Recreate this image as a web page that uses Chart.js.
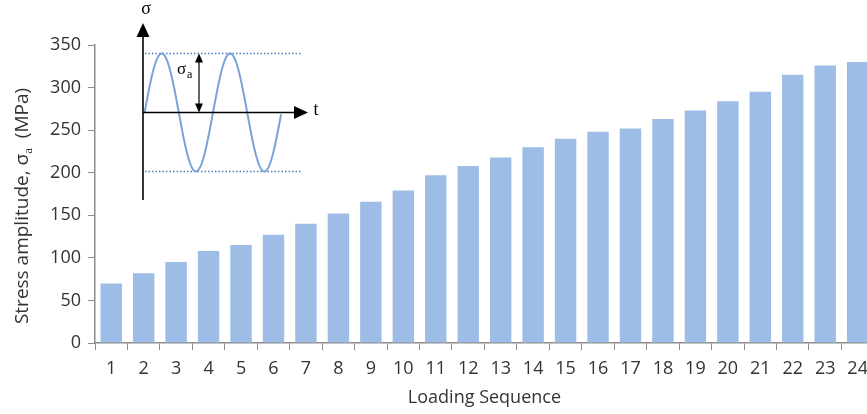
<!DOCTYPE html>
<html>
<head>
<meta charset="utf-8">
<script src="https://cdn.jsdelivr.net/npm/chart.js@4.4.1/dist/chart.umd.min.js"></script>
<style>
  html, body { margin: 0; padding: 0; background: #fff; overflow: hidden; }
  #wrap { width: 876px; height: 414px; }
</style>
</head>
<body>
<div id="wrap"><canvas id="chart"></canvas></div>
<script>
// datos
const categories = ['1', '2', '3', '4', '5', '6', '7', '8', '9', '10', '11', '12',
  '13', '14', '15', '16', '17', '18', '19', '20', '21', '22', '23', '24'];
const stressAmplitude = [70, 82, 95, 108, 115, 127, 140, 152, 166, 179, 197, 208,
  218, 230, 240, 248, 252, 263, 273, 284, 295, 315, 326, 330];
const yTicks = [0, 50, 100, 150, 200, 250, 300, 350];

const TEXT = '#333333';
const AXIS = '#8c8c8c';
const BAR = '#9dbde6';
const FONT = "'Open Sans', 'Liberation Sans', sans-serif";
const SERIF = "'Liberation Serif', 'DejaVu Serif', serif";

function arrowHead(ctx, x, y, dir, len, half) {
  ctx.beginPath();
  if (dir === 'up') { ctx.moveTo(x, y); ctx.lineTo(x - half, y + len); ctx.lineTo(x + half, y + len); }
  if (dir === 'down') { ctx.moveTo(x, y); ctx.lineTo(x - half, y - len); ctx.lineTo(x + half, y - len); }
  if (dir === 'right') { ctx.moveTo(x, y); ctx.lineTo(x - len, y - half); ctx.lineTo(x - len, y + half); }
  ctx.closePath();
  ctx.fill();
}

// esquema de carga sinusoidal (recuadro)
const insetPlugin = {
  id: 'inset',
  afterDraw(chart) {
    const ctx = chart.ctx;
    ctx.save();
    const ox = 143, oy = 112.5, amp = 59, x0 = 144.6, period = 68.4;

    // líneas punteadas de máximo y mínimo
    ctx.strokeStyle = '#4a7ebb';
    ctx.lineWidth = 1.3;
    ctx.setLineDash([1.5, 2]);
    [oy - amp, oy + amp].forEach(y => {
      ctx.beginPath(); ctx.moveTo(ox + 2, y); ctx.lineTo(302, y); ctx.stroke();
    });
    ctx.setLineDash([]);

    // onda
    ctx.strokeStyle = '#7aa3d8';
    ctx.lineWidth = 2;
    ctx.beginPath();
    for (let x = x0; x <= x0 + 2 * period + 0.01; x += 0.5) {
      const y = oy - amp * Math.sin((x - x0) / period * 2 * Math.PI);
      if (x === x0) ctx.moveTo(x, y); else ctx.lineTo(x, y);
    }
    ctx.stroke();

    // ejes
    ctx.strokeStyle = '#000';
    ctx.fillStyle = '#000';
    ctx.lineWidth = 1.6;
    ctx.beginPath(); ctx.moveTo(ox, 200); ctx.lineTo(ox, 34); ctx.stroke();
    arrowHead(ctx, ox, 23, 'up', 14, 6.5);
    ctx.beginPath(); ctx.moveTo(ox, oy); ctx.lineTo(296, oy); ctx.stroke();
    arrowHead(ctx, 308, oy, 'right', 14, 6.5);

    // flecha doble de amplitud
    ctx.lineWidth = 1.2;
    const ax = 199;
    ctx.beginPath(); ctx.moveTo(ax, oy - amp + 8); ctx.lineTo(ax, oy - 8); ctx.stroke();
    arrowHead(ctx, ax, oy - amp, 'up', 9, 4);
    arrowHead(ctx, ax, oy, 'down', 9, 4);

    // etiquetas
    ctx.textBaseline = 'alphabetic';
    ctx.textAlign = 'center';
    ctx.font = `18px ${SERIF}`;
    ctx.fillText('σ', 146, 14);
    ctx.fillText('t', 316, 115);
    ctx.textAlign = 'left';
    ctx.font = `17px ${SERIF}`;
    ctx.fillText('σ', 177, 74);
    ctx.font = `12px ${SERIF}`;
    ctx.fillText('a', 187, 78);
    ctx.restore();
  }
};

// título del eje Y con subíndice
const yTitlePlugin = {
  id: 'yTitle',
  afterDraw(chart) {
    const ctx = chart.ctx;
    ctx.save();
    ctx.translate(21, 206);
    ctx.rotate(-Math.PI / 2);
    ctx.fillStyle = TEXT;
    ctx.textBaseline = 'alphabetic';
    ctx.textAlign = 'left';
    const parts = [
      { t: 'Stress amplitude, ', f: `19px ${FONT}`, dy: 0 },
      { t: 'σ', f: `19px ${FONT}`, dy: 0 },
      { t: 'a', f: `13px ${SERIF}`, dy: 4 },
      { t: '  (MPa)', f: `19px ${FONT}`, dy: 0 }
    ];
    let total = 0;
    parts.forEach(p => { ctx.font = p.f; p.w = ctx.measureText(p.t).width; total += p.w; });
    let x = -total / 2;
    parts.forEach(p => { ctx.font = p.f; ctx.fillText(p.t, x, 7 + p.dy); x += p.w; });
    ctx.restore();
  }
};

new Chart(document.getElementById('chart'), {
  type: 'bar',
  data: {
    labels: categories,
    datasets: [{
      data: stressAmplitude,
      backgroundColor: BAR,
      borderWidth: 0,
      barPercentage: 0.66,
      categoryPercentage: 1
    }]
  },
  options: {
    responsive: true,
    maintainAspectRatio: false,
    animation: false,
    layout: { padding: { top: 45, right: 2, left: 0, bottom: 0 } },
    plugins: {
      legend: { display: false },
      tooltip: { enabled: false }
    },
    scales: {
      x: {
        afterFit: s => { s.height = 71; },
        grid: { drawOnChartArea: false, color: AXIS, tickLength: 7, offset: true },
        border: { color: AXIS, width: 1.5 },
        ticks: { color: TEXT, font: { family: FONT, size: 18 }, padding: 8, maxRotation: 0, autoSkip: false },
        title: { display: true, text: 'Loading Sequence', color: TEXT, font: { family: FONT, size: 18 }, padding: { top: 2, bottom: 5 } }
      },
      y: {
        min: 0,
        max: 350,
        afterFit: s => { s.width = 95; },
        afterBuildTicks: s => { s.ticks = yTicks.map(v => ({ value: v })); },
        grid: { drawOnChartArea: false, color: AXIS, tickLength: 7 },
        border: { color: AXIS, width: 1.5 },
        ticks: { color: TEXT, font: { family: FONT, size: 18 }, padding: 7 }
      }
    }
  },
  plugins: [insetPlugin, yTitlePlugin]
});
</script>
</body>
</html>
